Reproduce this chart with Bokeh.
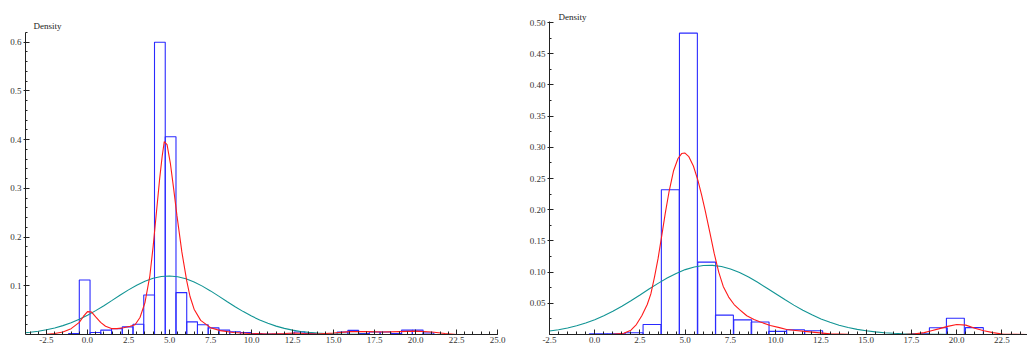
import numpy as np
from bokeh.plotting import figure
from bokeh.layouts import row
from bokeh.models import Range1d, FixedTicker, PrintfTickFormatter, Label
from bokeh.embed import file_html
from bokeh.resources import INLINE

# ---------------- data: left panel ----------------
left_bin_left = [-1.155, -0.5, 0.155, 0.81, 1.465, 2.12, 2.775, 3.43, 4.085, 4.74, 5.395,
                 6.05, 6.705, 7.36, 8.015, 8.67, 9.325, 9.98, 10.635, 11.29, 11.945,
                 12.6, 13.255, 15.22, 15.875, 16.53, 17.185, 17.84, 18.495, 19.15, 19.805, 20.46]
left_bin_height = [0.002, 0.112, 0.004, 0.009, 0.012, 0.0156, 0.021, 0.081, 0.600, 0.406, 0.086,
                   0.026, 0.020, 0.0137, 0.009, 0.0055, 0.004, 0.002, 0.001, 0.001, 0.001,
                   0.005, 0.002, 0.005, 0.0085, 0.002, 0.005, 0.005, 0.002, 0.009, 0.009, 0.003]
left_bin_width = 0.655

left_kde_x = [-3.5, -2.5, -2.0, -1.5, -1.0, -0.5, -0.25, 0.0, 0.25, 0.5, 0.8, 1.1, 1.5, 1.8, 2.2,
              2.6, 2.9, 3.2, 3.5, 3.8, 4.0, 4.2, 4.4, 4.55, 4.68, 4.85, 5.05, 5.25, 5.45, 5.75,
              6.05, 6.25, 6.5, 6.9, 7.5, 8.1, 8.9, 9.9, 11.0, 12.0, 12.6, 13.2, 14.0, 15.0, 16.0,
              17.0, 18.0, 19.0, 20.0, 21.0, 21.8, 22.5, 25.0]
left_kde_y = [0.0, 0.0005, 0.002, 0.005, 0.012, 0.025, 0.037, 0.047, 0.046, 0.036, 0.025, 0.017,
              0.012, 0.012, 0.014, 0.017, 0.020, 0.035, 0.065, 0.120, 0.180, 0.250, 0.320, 0.365,
              0.396, 0.390, 0.352, 0.300, 0.245, 0.170, 0.110, 0.078, 0.052, 0.029, 0.014, 0.008,
              0.004, 0.002, 0.001, 0.002, 0.003, 0.002, 0.001, 0.003, 0.006, 0.006, 0.005, 0.006,
              0.007, 0.005, 0.002, 0.0, 0.0]

left_norm_x = [-3.78, -3.5, -3.0, -2.5, -2.0, -1.5, -1.0, -0.5, 0.0, 0.5, 1.0, 1.5, 2.0, 2.5, 3.0,
               3.5, 4.0, 4.5, 5.0, 5.5, 6.0, 6.5, 7.0, 7.5, 8.0, 8.5, 9.0, 9.5, 10.0, 10.5, 11.0,
               11.5, 12.0, 12.5, 13.0, 13.5, 14.0, 14.5, 15.0, 15.5, 16.0, 17.0, 18.0, 19.0, 25.0]
left_norm_y = [0.0037, 0.0047, 0.0068, 0.0097, 0.0134, 0.0182, 0.0241, 0.0312, 0.0396, 0.0490,
               0.0592, 0.0700, 0.0810, 0.0916, 0.1012, 0.1093, 0.1154, 0.1191, 0.1202, 0.1186,
               0.1143, 0.1078, 0.0993, 0.0895, 0.0788, 0.0679, 0.0571, 0.0470, 0.0378, 0.0298,
               0.0229, 0.0172, 0.0126, 0.0090, 0.0063, 0.0044, 0.0029, 0.0019, 0.0012, 0.0008,
               0.0005, 0.0002, 0.0001, 0.0, 0.0]

left_x_ticks = [-2.5, 0.0, 2.5, 5.0, 7.5, 10.0, 12.5, 15.0, 17.5, 20.0, 22.5, 25.0]
left_y_ticks = [0.1, 0.2, 0.3, 0.4, 0.5, 0.6]

# ---------------- data: right panel ----------------
right_bin_left = [-0.3, 0.69, 1.68, 2.67, 3.68, 4.68, 5.69, 6.67, 7.68, 8.64, 9.61, 10.6, 11.6,
                  17.5, 18.49, 19.43, 20.48]
right_bin_height = [0.001, 0.001, 0.0027, 0.016, 0.232, 0.483, 0.116, 0.031, 0.0235, 0.020,
                    0.005, 0.0075, 0.006, 0.001, 0.0107, 0.026, 0.011]
right_bin_width = 0.99

right_kde_x = [-2.5, 0.0, 1.0, 1.6, 2.0, 2.3, 2.6, 2.9, 3.1, 3.3, 3.5, 3.7, 3.9, 4.1, 4.35, 4.6,
               4.8, 4.97, 5.2, 5.45, 5.7, 5.9, 6.1, 6.35, 6.6, 6.85, 7.1, 7.4, 7.7, 8.0, 8.4, 8.8,
               9.15, 9.7, 10.2, 10.6, 11.1, 11.6, 12.3, 13.0, 14.0, 16.0, 17.1, 17.7, 18.2, 18.6,
               19.0, 19.5, 20.0, 20.5, 21.0, 21.5, 22.0, 22.6, 23.9]
right_kde_y = [0.0, 0.0, 0.0005, 0.002, 0.007, 0.016, 0.030, 0.048, 0.065, 0.092, 0.122, 0.158,
               0.195, 0.228, 0.262, 0.282, 0.290, 0.291, 0.285, 0.270, 0.247, 0.224, 0.199, 0.165,
               0.130, 0.100, 0.077, 0.060, 0.048, 0.040, 0.030, 0.024, 0.020, 0.0145, 0.011,
               0.008, 0.0065, 0.005, 0.003, 0.001, 0.0002, 0.0, 0.0, 0.001, 0.003, 0.006, 0.009,
               0.013, 0.016, 0.015, 0.010, 0.006, 0.003, 0.0005, 0.0]

right_norm_x = [-2.5, -2.0, -1.5, -1.0, -0.5, 0.0, 0.5, 1.0, 1.5, 2.0, 2.5, 3.0, 3.5, 4.0, 4.5,
                5.0, 5.5, 6.0, 6.5, 7.0, 7.5, 8.0, 8.5, 9.0, 9.5, 10.0, 10.5, 11.0, 11.5, 12.0,
                12.5, 13.0, 13.5, 14.0, 14.5, 15.0, 15.5, 16.0, 16.5, 17.0, 17.5, 18.0, 18.5,
                19.0, 20.0, 21.0, 23.9]
right_norm_y = [0.0055, 0.0077, 0.0105, 0.0140, 0.0185, 0.0238, 0.0301, 0.0373, 0.0454, 0.0542,
                0.0634, 0.0728, 0.0819, 0.0904, 0.0979, 0.1040, 0.1083, 0.1106, 0.1108, 0.1089,
                0.1050, 0.0992, 0.0920, 0.0836, 0.0746, 0.0653, 0.0560, 0.0471, 0.0389, 0.0315,
                0.0250, 0.0195, 0.0149, 0.0111, 0.0082, 0.0059, 0.0042, 0.0029, 0.0020, 0.0013,
                0.0009, 0.0005, 0.0003, 0.0002, 0.0001, 0.0, 0.0]

right_x_ticks = [-2.5, 0.0, 2.5, 5.0, 7.5, 10.0, 12.5, 15.0, 17.5, 20.0, 22.5]
right_y_ticks = [0.05, 0.10, 0.15, 0.20, 0.25, 0.30, 0.35, 0.40, 0.45, 0.50]

# ---------------- styling ----------------
FONT = "Liberation Serif"
AXIS_COLOR = "#222222"
LABEL_COLOR = "#333333"
BAR_COLOR = "#2a2aff"
KDE_COLOR = "#ff1a1a"
NORM_COLOR = "#119494"
FIG_H = 347


def make_panel(width, border_left, border_bottom, x_start, x_end, y_end, x_ticks, x_minor,
               x_bounds, y_ticks, y_minor, y_bounds, y_fmt, label_x, label_y,
               bin_left, bin_height, bin_width, kde_x, kde_y, norm_x, norm_y):
    p = figure(width=width, height=FIG_H, output_backend="svg", toolbar_location=None,
               x_range=Range1d(x_start, x_end), y_range=Range1d(0, y_end),
               min_border_left=border_left, min_border_right=0,
               min_border_top=0, min_border_bottom=border_bottom)
    p.outline_line_color = None
    p.grid.visible = False
    p.background_fill_color = "white"
    p.border_fill_color = "white"

    bin_right = [b + bin_width for b in bin_left]
    p.quad(left=bin_left, right=bin_right, bottom=0, top=bin_height,
           fill_color=None, line_color=BAR_COLOR, line_width=1.1)
    p.line(norm_x, norm_y, line_color=NORM_COLOR, line_width=1.1)
    p.line(kde_x, kde_y, line_color=KDE_COLOR, line_width=1.1)

    xa = p.xaxis[0]
    xa.ticker = FixedTicker(ticks=x_ticks, minor_ticks=x_minor)
    xa.formatter = PrintfTickFormatter(format="%.1f")
    if x_bounds is not None:
        xa.bounds = x_bounds
    xa.major_tick_in = 5
    xa.major_tick_out = 0
    xa.minor_tick_in = 3
    xa.minor_tick_out = 0
    xa.major_label_standoff = 2

    ya = p.yaxis[0]
    ya.ticker = FixedTicker(ticks=y_ticks, minor_ticks=y_minor)
    ya.formatter = PrintfTickFormatter(format=y_fmt)
    ya.bounds = y_bounds
    ya.major_tick_in = 4
    ya.major_tick_out = 2
    ya.minor_tick_in = 2
    ya.minor_tick_out = 0
    ya.major_label_standoff = 2

    for ax in (xa, ya):
        ax.axis_line_color = AXIS_COLOR
        ax.axis_line_width = 1
        ax.major_tick_line_color = AXIS_COLOR
        ax.minor_tick_line_color = AXIS_COLOR
        ax.major_label_text_font = FONT
        ax.major_label_text_font_size = "9px"
        ax.major_label_text_color = LABEL_COLOR

    p.add_layout(Label(x=label_x, y=label_y, text="Density", text_font=FONT,
                       text_font_size="9px", text_color="#222222",
                       text_baseline="middle", text_align="left"))
    return p


left_x_minor = list(np.arange(-3.5, 25.01, 0.5))
left_y_minor = list(np.arange(0.02, 0.621, 0.02))
right_x_minor = list(np.arange(-2.5, 23.91, 0.5))
right_y_minor = list(np.arange(0.025, 0.501, 0.025))

# left figure: page x 0..510, y axis at x=25, x axis at y=336
p1 = make_panel(510, 25, 11, -3.78, 25.79, 0.6857, left_x_ticks, left_x_minor, (-3.78, 25.0),
                left_y_ticks, left_y_minor, (0, 0.62), "%.1f", -3.29, 0.633,
                left_bin_left, left_bin_height, left_bin_width,
                left_kde_x, left_kde_y, left_norm_x, left_norm_y)

# right figure: page x 510..1027, y axis at x=549, x axis at y=334
p2 = make_panel(517, 39, 13, -2.5, 23.91, 0.5353, right_x_ticks, right_x_minor, None,
                right_y_ticks, right_y_minor, (0, 0.5016), "%.2f", -2.0, 0.5096,
                right_bin_left, right_bin_height, right_bin_width,
                right_kde_x, right_kde_y, right_norm_x, right_norm_y)

layout = row(p1, p2)
open("out.html", "w").write(file_html(layout, INLINE))
